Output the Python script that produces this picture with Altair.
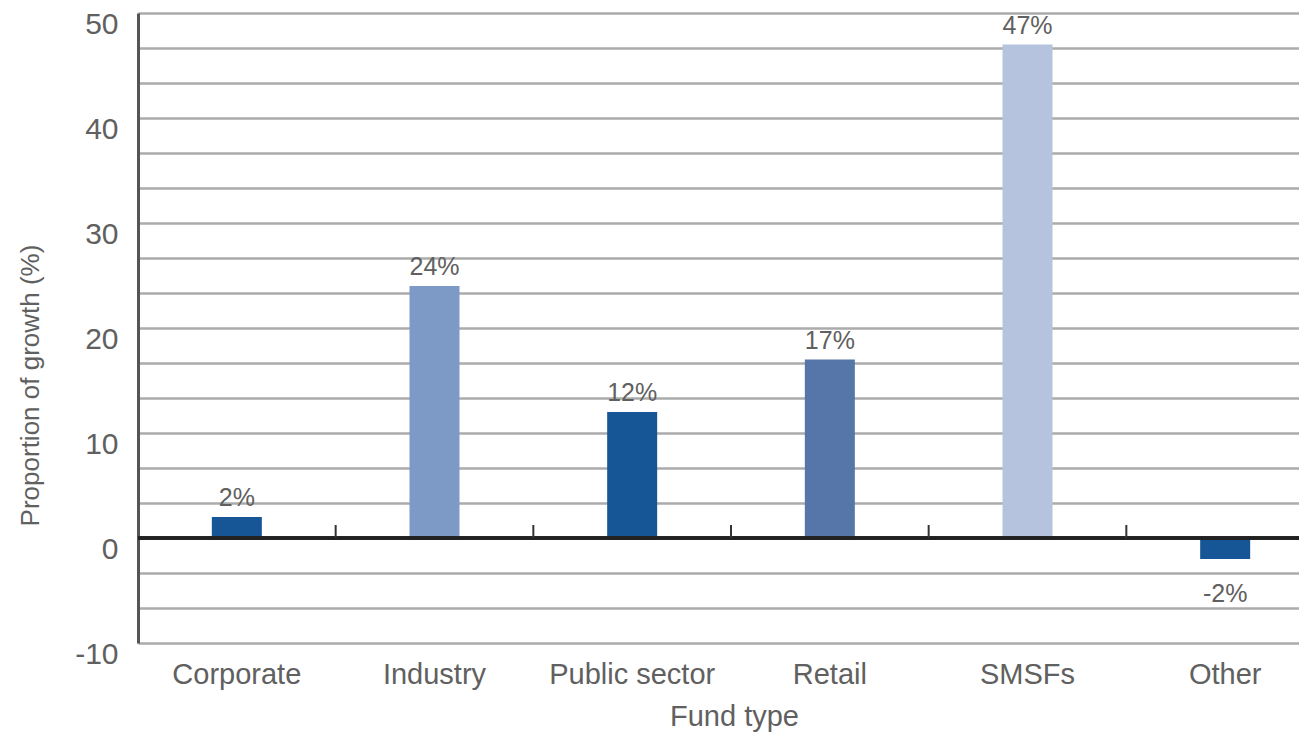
import altair as alt
import pandas as pd

funds = ["Corporate", "Industry", "Public sector", "Retail", "SMSFs", "Other"]
growth = [2, 24, 12, 17, 47, -2]
value_labels = ["2%", "24%", "12%", "17%", "47%", "-2%"]
bar_colors = ["#175696", "#7d9ac6", "#175696", "#5676a9", "#b6c3df", "#175696"]

y_tick_labels = [-10, 0, 10, 20, 30, 40, 50]
grid_values = [-10, -6.667, -3.333, 0, 3.333, 6.667, 10, 13.333, 16.667, 20,
               23.333, 26.667, 30, 33.333, 36.667, 40, 43.333, 46.667, 50]

df = pd.DataFrame({"fund": funds, "growth": growth, "label": value_labels})

FONT = "Liberation Sans"
TXT = "#606060"

label_list = "[" + ",".join(str(v) for v in y_tick_labels) + "]"

x_enc = alt.X(
    "fund:N",
    sort=funds,
    scale=alt.Scale(type="band", range=[0, 1186], paddingInner=0, paddingOuter=0),
    axis=alt.Axis(
        title="Fund type",
        ticks=False,
        domain=False,
        grid=False,
        labelAngle=0,
        labelFont=FONT,
        labelFontSize=29,
        labelColor=TXT,
        labelBaseline="alphabetic",
        labelPadding=40,
        labelOverlap=False,
        titleFont=FONT,
        titleFontSize=29,
        titleFontWeight="normal",
        titleColor=TXT,
        titleBaseline="alphabetic",
        titleY=82,
        titleX=596,
        titleAnchor="middle",
        titleAlign="center",
    ),
)

y_enc = alt.Y(
    "growth:Q",
    scale=alt.Scale(domain=[-10, 50], nice=False, zero=False),
    axis=alt.Axis(
        title="Proportion of growth (%)",
        values=grid_values,
        tickCount=40,
        labelExpr=f"indexof({label_list}, datum.value) >= 0 ? '' + datum.value : ''",
        labelOverlap=False,
        ticks=False,
        grid=True,
        gridColor="#ababab",
        gridWidth=2.5,
        domain=True,
        domainColor="#555555",
        domainWidth=3,
        labelFont=FONT,
        labelFontSize=30,
        labelColor=TXT,
        labelBaseline="alphabetic",
        labelOffset=20,
        labelPadding=20,
        titleFont=FONT,
        titleFontSize=26,
        titleFontWeight="normal",
        titleColor=TXT,
        titleAngle=-90,
        titleBaseline="alphabetic",
        titleAlign="center",
        titleX=-100,
        titleY=372,
    ),
)

bars = alt.Chart(df).mark_bar(size=50).encode(
    x=x_enc,
    y=y_enc,
    y2=alt.datum(0),
    color=alt.Color("fund:N", scale=alt.Scale(domain=funds, range=bar_colors), legend=None),
)

zero_line = alt.Chart(df).mark_rule(color="#222222", strokeWidth=3).encode(
    y=alt.datum(0)
)

ticks = alt.Chart(df).transform_filter("datum.fund != 'Corporate'").mark_rule(
    color="#333333", strokeWidth=2, y2Offset=-13
).encode(
    x=alt.X("fund:N", sort=funds, bandPosition=0),
    y=alt.datum(0),
    y2=alt.datum(0),
)

pos_labels = alt.Chart(df).transform_filter("datum.growth >= 0").mark_text(
    font=FONT, fontSize=25, color=TXT, baseline="alphabetic", dy=-11
).encode(
    x=alt.X("fund:N", sort=funds),
    y=alt.Y("growth:Q"),
    text="label:N",
)

neg_labels = alt.Chart(df).transform_filter("datum.growth < 0").mark_text(
    font=FONT, fontSize=25, color=TXT, baseline="alphabetic", dy=43
).encode(
    x=alt.X("fund:N", sort=funds),
    y=alt.Y("growth:Q"),
    text="label:N",
)

chart = alt.layer(bars, zero_line, ticks, pos_labels, neg_labels).properties(
    width=1161,
    height=630,
    autosize=alt.AutoSizeParams(type="none"),
    padding={"left": 130, "top": 5, "right": 0, "bottom": 90},
    background="white",
).configure_view(stroke=None)

chart.save("out.html", embed_options={"renderer": "svg", "actions": False})
